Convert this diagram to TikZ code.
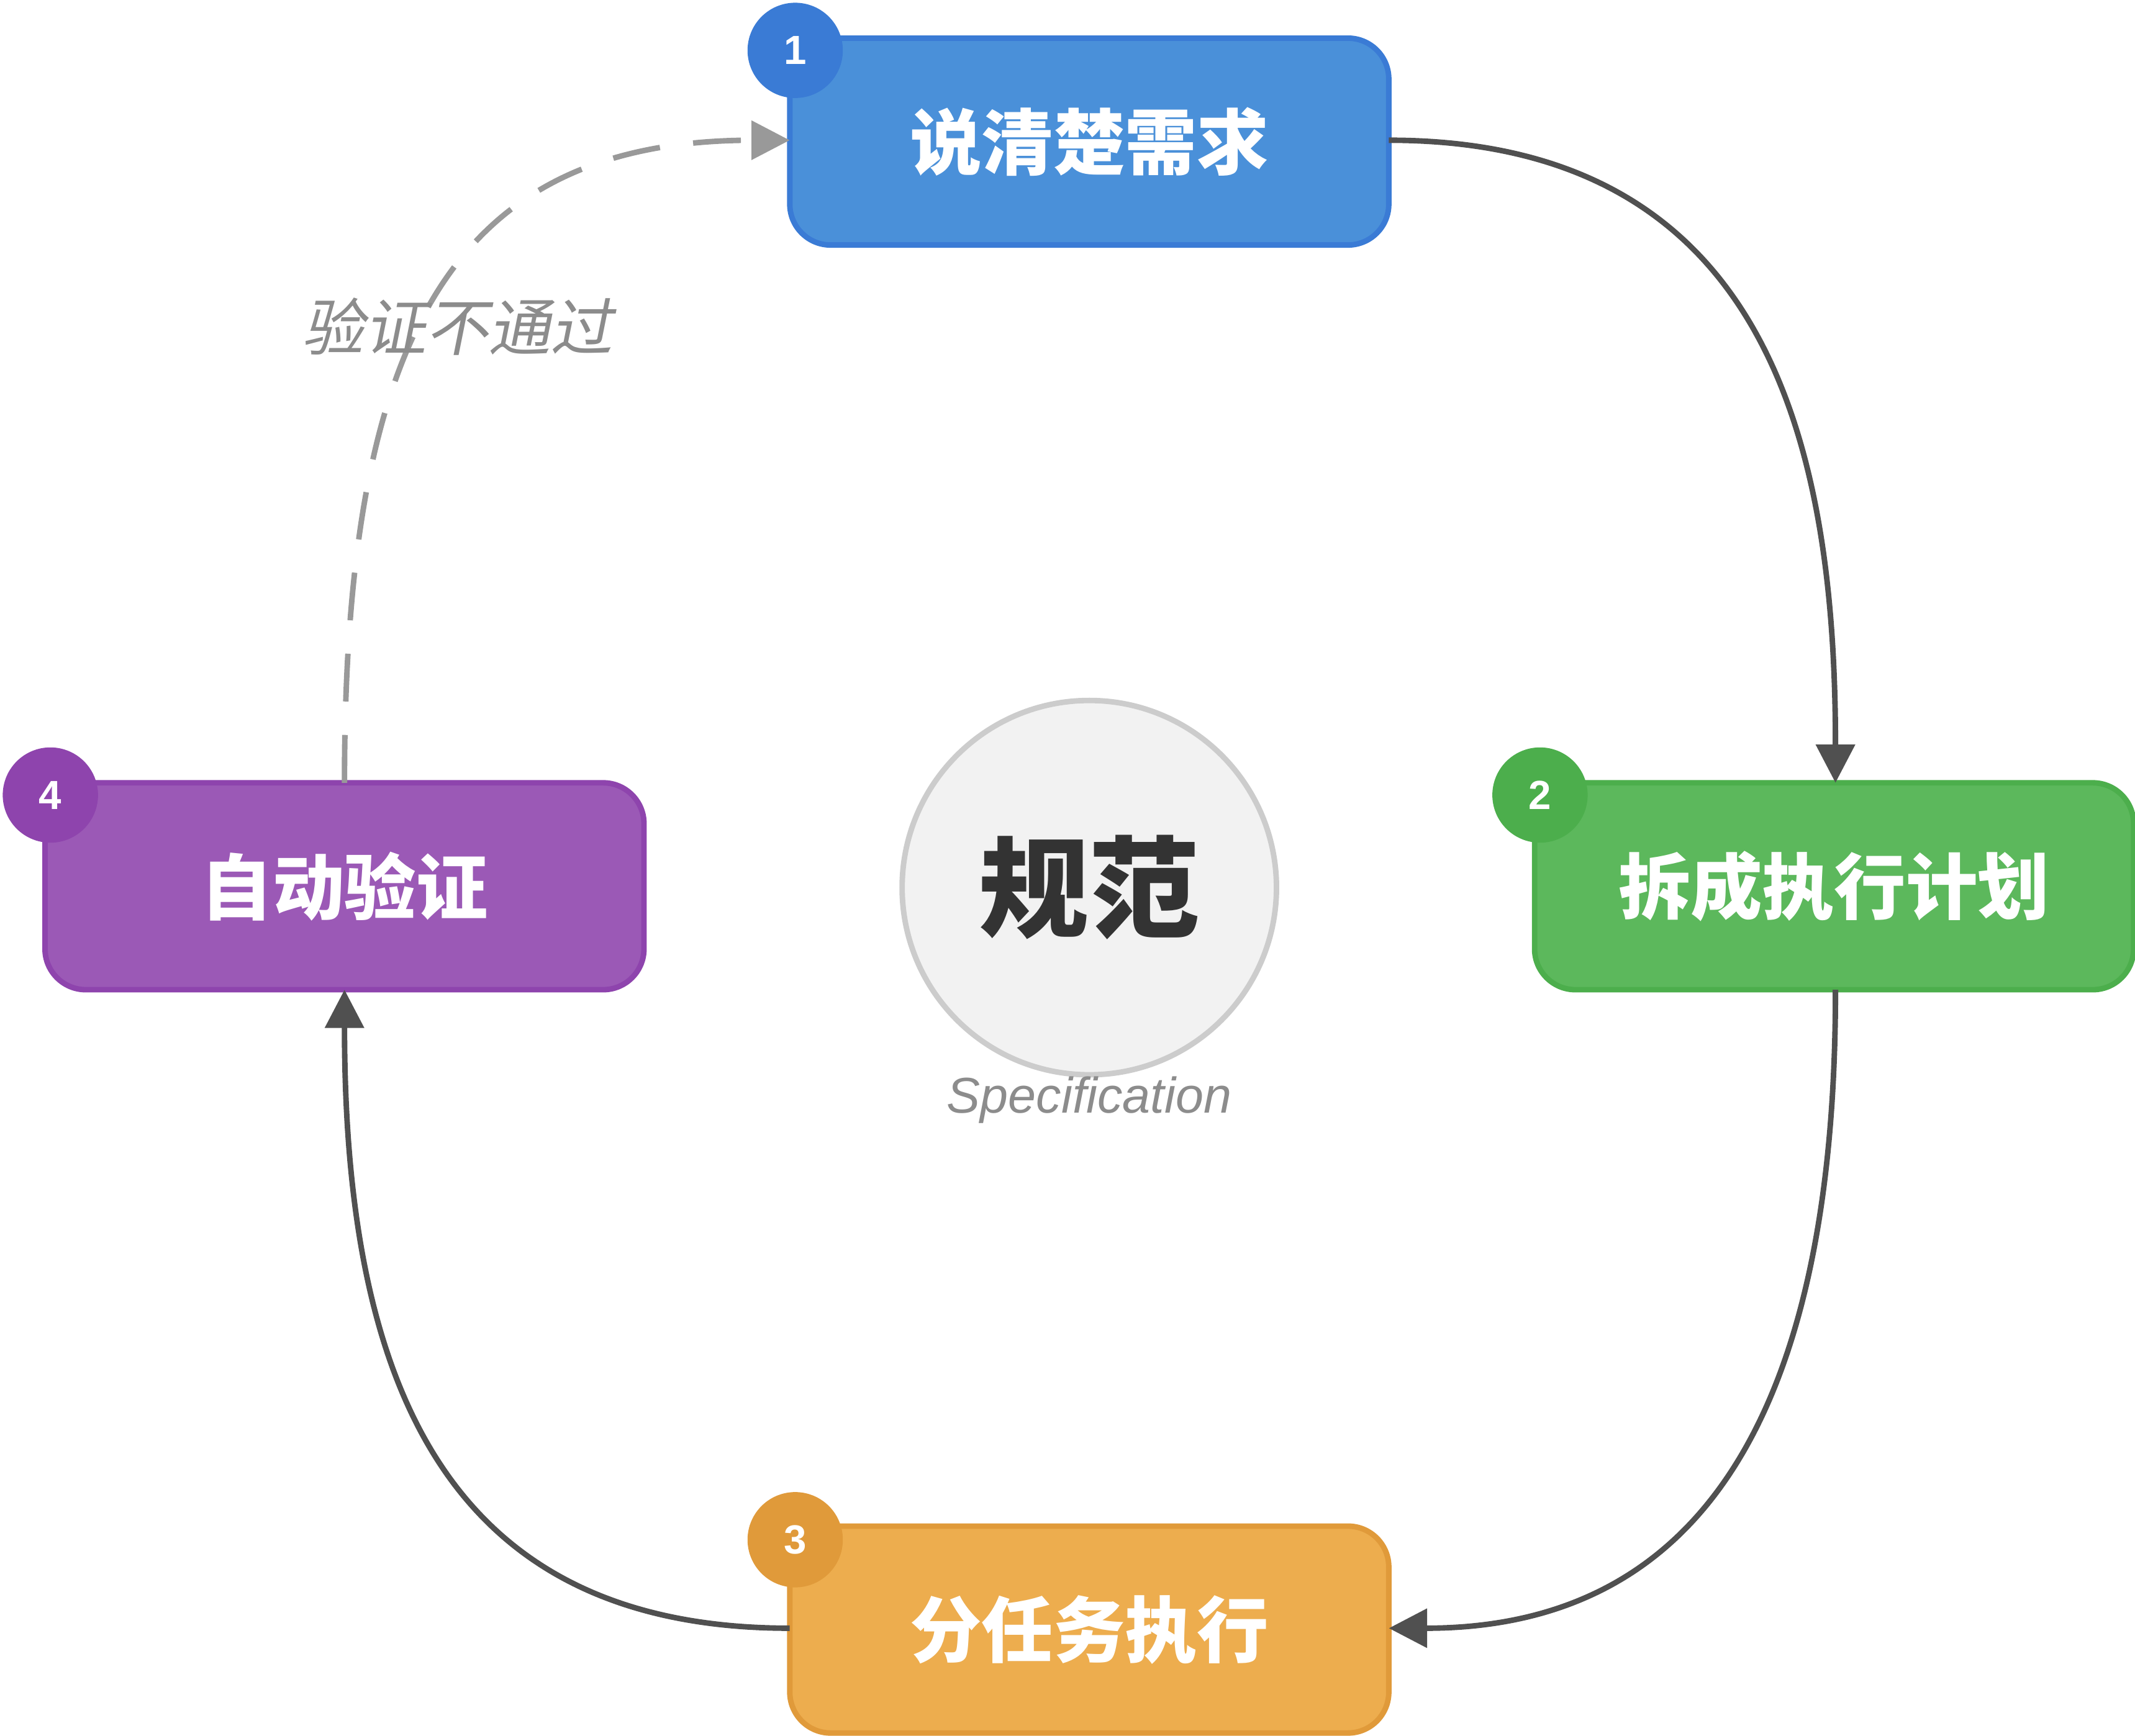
\documentclass[tikz,border=0pt]{standalone}
\usepackage{fontspec}
\setmainfont{Liberation Sans}
\newfontfamily\cjk{Noto Sans CJK SC}
\newfontfamily\cjkit[FakeSlant=0.2]{Noto Sans CJK SC}
\usetikzlibrary{arrows.meta}
\definecolor{bluef}{HTML}{4A90D9}\definecolor{blued}{HTML}{3A7BD5}
\definecolor{greenf}{HTML}{5CB85C}\definecolor{greend}{HTML}{4CAE4C}
\definecolor{orangef}{HTML}{EDAD4E}\definecolor{oranged}{HTML}{E09A3A}
\definecolor{purplef}{HTML}{9B59B6}\definecolor{purpled}{HTML}{8E44AD}
\definecolor{lineg}{HTML}{505050}
\begin{document}
\begin{tikzpicture}[x=0.02cm,y=-0.02cm,
 box/.style={draw, line width=2.3pt, rounded corners=0.6cm, minimum width=8.8cm, minimum height=3.04cm, text=white, font=\cjk\bfseries\fontsize{30}{34}\selectfont},
 badge/.style={circle, minimum size=1.4cm, inner sep=0pt, text=white, font=\bfseries\fontsize{17}{20}\selectfont},
 flow/.style={lineg, line width=2.3pt, -{Triangle[length=16pt,width=16pt]}},
]
\useasboundingbox (0,0) rectangle (1568,1275);
\node[box, fill=bluef, draw=blued] (b1) at (800,104) {说清楚需求};
\node[box, fill=greenf, draw=greend] (b2) at (1347,651) {拆成执行计划};
\node[box, fill=orangef, draw=oranged] (b3) at (800,1197) {分任务执行};
\node[box, fill=purplef, draw=purpled] (b4) at (253,651) {自动验证};
\node[badge, fill=blued] (n1) at (584,37) {1};
\node[badge, fill=greend] (n2) at (1131,584) {2};
\node[badge, fill=oranged] (n3) at (584,1131) {3};
\node[badge, fill=purpled] (n4) at (37,584) {4};
\node[circle, draw=black!20, line width=2.3pt, fill=black!5, minimum size=5.5cm, inner sep=0pt, font=\cjk\bfseries\fontsize{46}{50}\selectfont, text=black!80] (c) at (800,652) {规范};
\node[font=\itshape\fontsize{21}{24}\selectfont, text=black!45] (spec) at (800,808) {Specification};
\coordinate (p1) at (1020,103);\coordinate (p2) at (1348,575);
\coordinate (p3) at (1348,727);\coordinate (p4) at (1020,1196);
\coordinate (p5) at (580,1196);\coordinate (p6) at (253,727);
\coordinate (p7) at (253,575);\coordinate (p8) at (580,103);
\draw[flow] (p1) .. controls (1300,103) and (1348,330) .. (p2);
\draw[flow] (p3) .. controls (1348,1020) and (1260,1196) .. (p4);
\draw[flow] (p5) .. controls (330,1196) and (253,1020) .. (p6);
\draw[black!40, line width=2.3pt, dash pattern=on 20 off 14, -{Triangle[length=16pt,width=16pt]}] (p7) .. controls (253,250) and (330,103) .. (p8);
\node[font=\cjkit\fontsize{26}{30}\selectfont, text=black!45] (lbl) at (336,240) {验证不通过};
\end{tikzpicture}
\end{document}
